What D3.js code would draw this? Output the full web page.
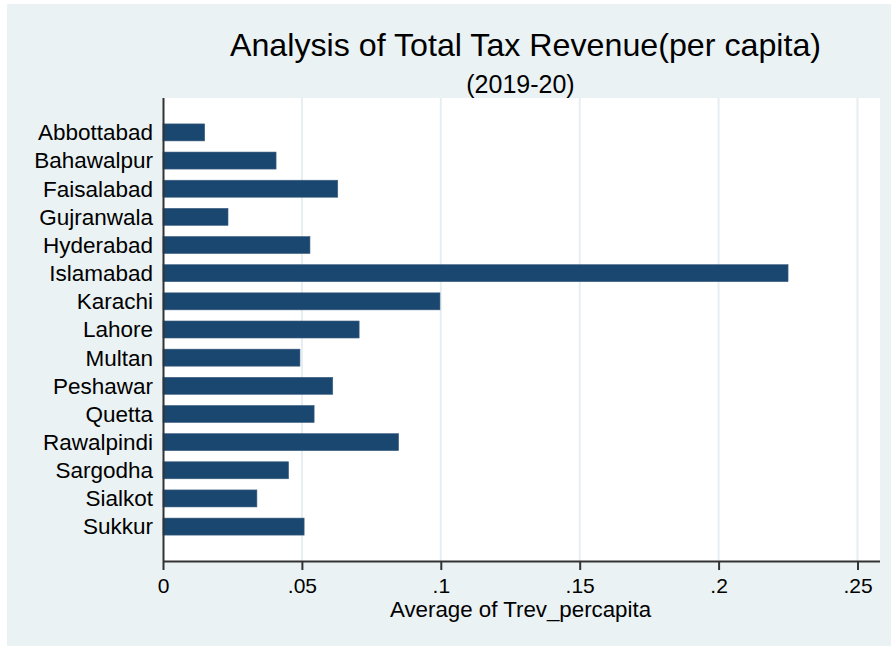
<!DOCTYPE html>
<html><head><meta charset="utf-8">
<script src="https://cdn.jsdelivr.net/npm/d3@7"></script>
<style>body{margin:0;background:#fff}svg{display:block}text{font-family:"Liberation Sans",Arial,Helvetica,sans-serif;fill:#000}</style>
</head><body>
<script>
const categories = ["Abbottabad","Bahawalpur","Faisalabad","Gujranwala","Hyderabad","Islamabad","Karachi","Lahore","Multan","Peshawar","Quetta","Rawalpindi","Sargodha","Sialkot","Sukkur"];
const values = [0.0150,0.0407,0.0629,0.0234,0.0529,0.2250,0.0997,0.0706,0.0493,0.0611,0.0544,0.0848,0.0452,0.0338,0.0508];
const tickValues = [0,0.05,0.1,0.15,0.2,0.25];
const tickLabels = ["0",".05",".1",".15",".2",".25"];
const title = "Analysis of Total Tax Revenue(per capita)";
const subtitle = "(2019-20)";
const xTitle = "Average of Trev_percapita";

const W = 891, H = 646;
const svg = d3.select("body").append("svg").attr("width", W).attr("height", H);
svg.append("rect").attr("x", 7).attr("y", 4).attr("width", W - 7).attr("height", H - 4).attr("fill", "#eaf2f3");

const L = 163, R = 880, T = 98, B = 561;
svg.append("rect").attr("x", L).attr("y", T).attr("width", R - L).attr("height", B - T).attr("fill", "#fff");

const x = d3.scaleLinear().domain([0, 0.25]).range([L, L + 0.25 * 2778]);
const y = d3.scaleBand().domain(categories).range([T, B]).paddingInner(0.396).paddingOuter(0.92);

// gridlines
svg.append("g").selectAll("line").data(tickValues.filter(d => d > 0)).join("line")
  .attr("x1", d => x(d)).attr("x2", d => x(d)).attr("y1", T).attr("y2", B)
  .attr("stroke", "#e6eef1").attr("stroke-width", 2);

// bars
svg.append("g").selectAll("rect").data(categories).join("rect")
  .attr("x", x(0)).attr("y", d => y(d))
  .attr("width", (d, i) => x(values[i]) - x(0)).attr("height", y.bandwidth())
  .attr("fill", "#1a476f").attr("stroke", "#3e5f80").attr("stroke-width", 0.6);

// x axis
const xAxis = d3.axisBottom(x).tickValues(tickValues).tickFormat((d, i) => tickLabels[i]).tickSize(9).tickPadding(8);
const gx = svg.append("g").attr("transform", `translate(0,${B})`).call(xAxis);
gx.select(".domain").attr("d", `M${L},0.5H${R}`).attr("stroke", "#333").attr("stroke-width", 2);
gx.selectAll(".tick line").attr("stroke", "#333").attr("stroke-width", 2);
gx.selectAll(".tick text").attr("font-size", 21).attr("font-family", "Liberation Sans, Arial, sans-serif").attr("fill", "#000").attr("dy", "0.71em").attr("y", 17);

// y axis
const yAxis = d3.axisLeft(y).tickSize(0).tickPadding(10);
const gy = svg.append("g").attr("transform", `translate(${L},0)`).call(yAxis);
gy.select(".domain").attr("d", `M0.5,${T}V${B}`).attr("stroke", "#333").attr("stroke-width", 2);
gy.selectAll(".tick text").attr("font-size", 22.5).attr("font-family", "Liberation Sans, Arial, sans-serif").attr("fill", "#000").attr("dy", "0.35em");

// titles
const cx = (L + R) / 2 + 4;
svg.append("text").attr("x", cx).attr("y", 56).attr("text-anchor", "middle").attr("font-size", 32.2).text(title);
svg.append("text").attr("x", cx - 5).attr("y", 93).attr("text-anchor", "middle").attr("font-size", 25).text(subtitle);
svg.append("text").attr("x", (L + R) / 2 - 1).attr("y", 617).attr("text-anchor", "middle").attr("font-size", 22.3).text(xTitle);
</script>
</body></html>
